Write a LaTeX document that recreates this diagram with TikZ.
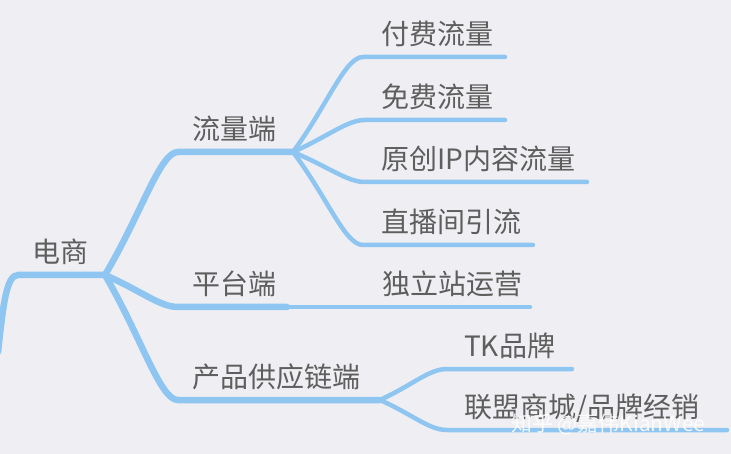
\documentclass[tikz,border=0pt]{standalone}
\usepackage{fontspec}
\newfontfamily\cjk{Noto Sans CJK SC}
\usetikzlibrary{positioning,calc}

\definecolor{bg}{HTML}{EFEFF3}
\definecolor{branchblue}{HTML}{8EC5F1}
\definecolor{textgray}{HTML}{5E5E5E}

\tikzset{
  topic/.style={inner sep=0pt, text depth=0pt, text=textgray, font=\cjk\fontsize{28}{32}\selectfont},
  trunk/.style={draw=branchblue, line width=6.5pt, line cap=round},
  twig/.style={draw=branchblue, line width=4.5pt, line cap=round},
  curve/.style={to path={.. controls ($(\tikztostart)!0.5!(\tikztotarget)$) and ($(\tikztotarget)+(-18,0)$) .. (\tikztotarget)}},
}

\begin{document}
\begin{tikzpicture}[x=1pt, y=-1pt]

    \fill[bg] (0,0) rectangle (731,454);
    \useasboundingbox (0,0) rectangle (731,454);

    \coordinate (in) at ( -2, 352);
    \coordinate (dsw) at ( 18, 275);
    \coordinate (dse) at (105, 275);

    \coordinate (llw) at (178, 152);
    \coordinate (lle) at (293, 152);
    \coordinate (ptw) at (178, 307);
    \coordinate (pte) at (287, 307);
    \coordinate (cpw) at (178, 400);
    \coordinate (cpe) at (380, 400);

    \coordinate (ffw) at (363,  57);
    \coordinate (ffe) at (505,  57);
    \coordinate (mfw) at (365, 120);
    \coordinate (mfe) at (505, 120);
    \coordinate (ycw) at (365, 182);
    \coordinate (yce) at (587, 182);
    \coordinate (zbw) at (363, 245);
    \coordinate (zbe) at (533, 245);
    \coordinate (dle) at (530, 307);
    \coordinate (tkw) at (447, 369);
    \coordinate (tke) at (572, 369);
    \coordinate (lmw) at (447, 430);
    \coordinate (lme) at (727, 430);

    % branches
    \draw[trunk] (in) .. controls +(5,-45) and +(-12,0) .. (dsw) -- (dse);
    \draw[trunk] (dse) to[curve] (llw) -- (lle);
    \draw[trunk] (dse) to[curve] (ptw) -- (pte);
    \draw[trunk] (dse) to[curve] (cpw) -- (cpe);

    \draw[twig] (lle) to[curve] (ffw) -- (ffe);
    \draw[twig] (lle) to[curve] (mfw) -- (mfe);
    \draw[twig] (lle) to[curve] (ycw) -- (yce);
    \draw[twig] (lle) to[curve] (zbw) -- (zbe);
    \draw[twig] (pte) -- (dle);
    \draw[twig] (cpe) to[curve] (tkw) -- (tke);
    \draw[twig] (cpe) to[curve] (lmw) -- (lme);

    % labels
    \node[topic, above right=12pt and 14pt of dsw] (ds) {电商};
    \node[topic, above right=12pt and 14pt of llw] (ll) {流量端};
    \node[topic, above right=12pt and 14pt of ptw] (pt) {平台端};
    \node[topic, above right=12pt and 14pt of cpw] (cp) {产品供应链端};

    \node[topic, above right=12pt and 18pt of ffw] (ff) {付费流量};
    \node[topic, above right=12pt and 16pt of mfw] (mf) {免费流量};
    \node[topic, above right=12pt and 16pt of ycw] (yc) {原创IP内容流量};
    \node[topic, above right=12pt and 18pt of zbw] (zb) {直播间引流};
    \node[topic, above right=12pt and 95pt of pte] (dl) {独立站运营};
    \node[topic, above right=12pt and 17pt of tkw] (tk) {TK品牌};
    \node[topic, above right=12pt and 17pt of lmw] (lm) {联盟商城/品牌经销};

    \node[anchor=west, inner sep=0pt, text=white, opacity=0.85, font=\cjk\fontsize{21}{24}\selectfont] (wm) at (511, 424) {知乎 @嘉伟KianWee};

\end{tikzpicture}
\end{document}
